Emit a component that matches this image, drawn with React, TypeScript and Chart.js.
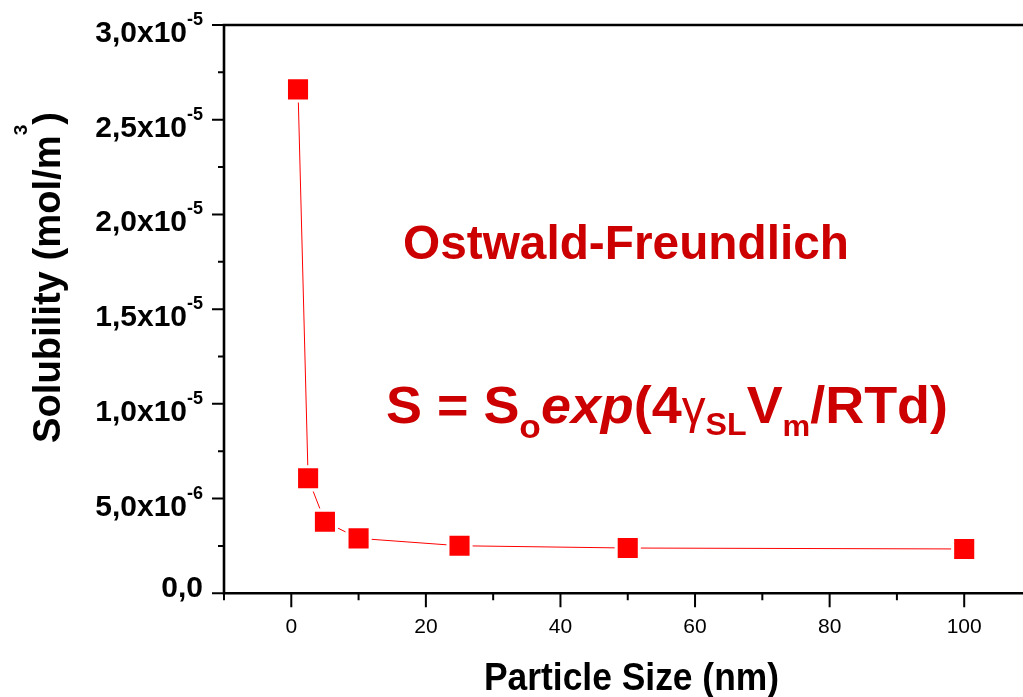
import { useEffect, useRef } from "react";
import { Chart, registerables } from "chart.js";

Chart.register(...registerables);

// ---- data ----
const particleSize = [1, 2.5, 5, 10, 25, 50, 100];
const solubility = [2.66e-5, 6.07e-6, 3.78e-6, 2.9e-6, 2.51e-6, 2.39e-6, 2.34e-6];

const xMajorTicks = [0, 20, 40, 60, 80, 100];
const xMinorTicks = [-10, 10, 30, 50, 70, 90, 110];
const yMajorTicks = [0, 5e-6, 1e-5, 1.5e-5, 2e-5, 2.5e-5, 3e-5];
const yTickMantissa = ["0,0", "5,0", "1,0", "1,5", "2,0", "2,5", "3,0"];
const yTickExponent = ["", "-6", "-5", "-5", "-5", "-5", "-5"];
const yMinorTicks = [2.5e-6, 7.5e-6, 1.25e-5, 1.75e-5, 2.25e-5, 2.75e-5];

const FAM = "'Liberation Sans', Arial, sans-serif";
const DARK_RED = "#cc0000";

type Run = { text: string; font: string; dy: number };

function drawRuns(
  ctx: CanvasRenderingContext2D,
  runs: Run[],
  x: number,
  y: number,
  targetWidth?: number
) {
  ctx.save();
  let total = 0;
  const widths = runs.map((r) => {
    ctx.font = r.font;
    const w = ctx.measureText(r.text).width;
    total += w;
    return w;
  });
  const s = targetWidth ? targetWidth / total : 1;
  ctx.translate(x, y);
  ctx.scale(s, 1);
  ctx.textAlign = "left";
  ctx.textBaseline = "alphabetic";
  let cx = 0;
  runs.forEach((r, i) => {
    ctx.font = r.font;
    ctx.fillText(r.text, cx, r.dy);
    cx += widths[i];
  });
  ctx.restore();
}

const axesPlugin = {
  id: "originAxes",
  afterDatasetsDraw(chart: any) {
    const ctx: CanvasRenderingContext2D = chart.ctx;
    const { left, right, top, bottom } = chart.chartArea;
    const xs = chart.scales.x;
    const ys = chart.scales.y;
    ctx.save();
    ctx.strokeStyle = "#000";
    ctx.fillStyle = "#000";
    // frame
    ctx.lineWidth = 2.6;
    ctx.beginPath();
    ctx.moveTo(left, bottom);
    ctx.lineTo(left, top);
    ctx.lineTo(right, top);
    ctx.lineTo(right, bottom);
    ctx.closePath();
    ctx.stroke();
    // ticks
    ctx.lineWidth = 2;
    ctx.beginPath();
    xMajorTicks.forEach((v) => {
      const px = xs.getPixelForValue(v);
      ctx.moveTo(px, bottom);
      ctx.lineTo(px, bottom + 14);
    });
    xMinorTicks.forEach((v) => {
      const px = xs.getPixelForValue(v);
      ctx.moveTo(px, bottom);
      ctx.lineTo(px, bottom + 7);
    });
    yMajorTicks.forEach((v) => {
      const py = ys.getPixelForValue(v);
      ctx.moveTo(left, py);
      ctx.lineTo(left - 12, py);
    });
    yMinorTicks.forEach((v) => {
      const py = ys.getPixelForValue(v);
      ctx.moveTo(left, py);
      ctx.lineTo(left - 6, py);
    });
    ctx.stroke();

    // x tick labels
    ctx.font = `21px ${FAM}`;
    ctx.textAlign = "center";
    ctx.textBaseline = "alphabetic";
    xMajorTicks.forEach((v) => {
      ctx.fillText(String(v), xs.getPixelForValue(v), bottom + 40);
    });

    // y tick labels
    const mainFont = `bold 30px ${FAM}`;
    const supFont = `bold 18px ${FAM}`;
    const rightEdge = left - 21;
    yMajorTicks.forEach((v, i) => {
      const py = ys.getPixelForValue(v);
      const m = yTickMantissa[i];
      const e = yTickExponent[i];
      if (e) {
        const text = m + "x10";
        ctx.font = supFont;
        const we = ctx.measureText(e).width;
        ctx.font = mainFont;
        const wm = ctx.measureText(text).width;
        drawRuns(
          ctx,
          [
            { text, font: mainFont, dy: 0 },
            { text: e, font: supFont, dy: -17 },
          ],
          rightEdge - we - wm,
          py + 17
        );
      } else {
        ctx.font = mainFont;
        const wm = ctx.measureText(m).width;
        drawRuns(ctx, [{ text: m, font: mainFont, dy: 0 }], rightEdge - wm, py + 4);
      }
    });

    // axis titles
    drawRuns(
      ctx,
      [{ text: "Particle Size (nm)", font: `bold 39px ${FAM}`, dy: 0 }],
      484,
      690,
      295
    );
    ctx.save();
    ctx.translate(60, 443);
    ctx.rotate(-Math.PI / 2);
    drawRuns(
      ctx,
      [
        { text: "Solubility (mol/m", font: `bold 38px ${FAM}`, dy: 0 },
        { text: "3", font: `bold 19px ${FAM}`, dy: -33 },
        { text: ")", font: `bold 38px ${FAM}`, dy: 0 },
      ],
      0,
      0,
      331
    );
    ctx.restore();

    // annotations
    ctx.fillStyle = DARK_RED;
    drawRuns(
      ctx,
      [{ text: "Ostwald-Freundlich", font: `bold 48px ${FAM}`, dy: 0 }],
      403,
      259,
      446
    );
    const big = `bold 52px ${FAM}`;
    drawRuns(
      ctx,
      [
        { text: "S = S", font: big, dy: 0 },
        { text: "o", font: `bold 34px ${FAM}`, dy: 15 },
        { text: "exp", font: `italic bold 52px ${FAM}`, dy: 0 },
        { text: "(4", font: big, dy: 0 },
        { text: "\u03b3", font: `46px ${FAM}`, dy: 0 },
        { text: "SL", font: `bold 31px ${FAM}`, dy: 12 },
        { text: "V", font: big, dy: 0 },
        { text: "m", font: `bold 30px ${FAM}`, dy: 13 },
        { text: "/RTd)", font: big, dy: 0 },
      ],
      386,
      423,
      562
    );
    ctx.restore();
  },
};

export default function App() {
  const ref = useRef<HTMLCanvasElement | null>(null);
  useEffect(() => {
    if (!ref.current) return;
    const pts = particleSize.map((x, i) => ({ x, y: solubility[i] }));
    const chart = new Chart(ref.current, {
      type: "scatter",
      data: {
        datasets: [
          {
            data: pts,
            showLine: true,
            borderColor: "#ff0000",
            borderWidth: 1,
            pointRadius: 0,
            order: 3,
          },
          {
            data: pts,
            showLine: false,
            pointStyle: "rect",
            pointRadius: 18.5,
            pointBackgroundColor: "#ffffff",
            pointBorderWidth: 0,
            order: 2,
          },
          {
            data: pts,
            showLine: false,
            pointStyle: "rect",
            pointRadius: 14.2,
            pointBackgroundColor: "#ff0000",
            pointBorderColor: "#ff0000",
            pointBorderWidth: 0,
            order: 1,
          },
        ] as any,
      },
      options: {
        animation: false,
        responsive: false,
        devicePixelRatio: 1,
        events: [],
        layout: { padding: { left: 224, right: 16.8, top: 25, bottom: 103.7 } },
        plugins: { legend: { display: false }, tooltip: { enabled: false } },
        scales: {
          x: { type: "linear", min: -10, max: 110, display: false },
          y: { type: "linear", min: 0, max: 3e-5, display: false },
        },
      },
      plugins: [axesPlugin],
    });
    return () => chart.destroy();
  }, []);
  return (
    <div
      style={{
        position: "absolute",
        left: 0,
        top: 0,
        width: 1023,
        height: 697,
        overflow: "hidden",
        background: "#fff",
      }}
    >
      <canvas ref={ref} width={1050} height={697} style={{ display: "block" }} />
    </div>
  );
}
